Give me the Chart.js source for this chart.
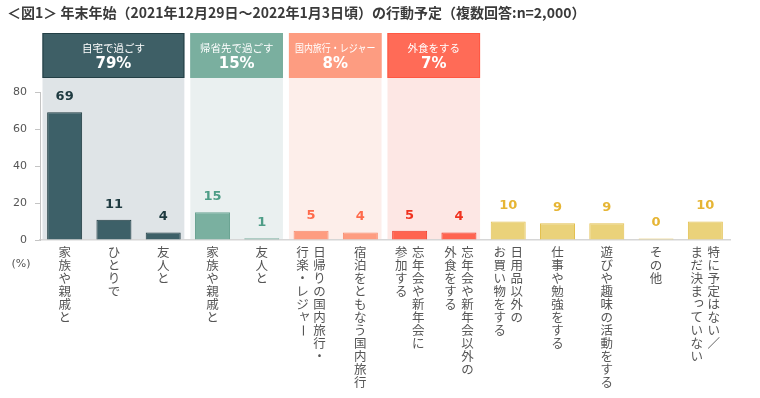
<!DOCTYPE html>
<html>
<head>
<meta charset="utf-8">
<script src="https://cdn.jsdelivr.net/npm/chart.js@4.4.1/dist/chart.umd.min.js"></script>
<style>
  html, body { margin: 0; padding: 0; background: #fff; }
  .chart-box { width: 760px; height: 398px; }
</style>
</head>
<body>
<div class="chart-box"><canvas id="plans"></canvas></div>
<script>
const chartTitle = '＜図1＞ 年末年始（2021年12月29日～2022年1月3日頃）の行動予定（複数回答:n=2,000）';

// each label is a list of vertical columns, right column first
const categories = [
  ['家族や親戚と'],
  ['ひとりで'],
  ['友人と'],
  ['家族や親戚と'],
  ['友人と'],
  ['日帰りの国内旅行・', '行楽・レジャー'],
  ['宿泊をともなう国内旅行'],
  ['忘年会や新年会に', '参加する'],
  ['忘年会や新年会以外の', '外食をする'],
  ['日用品以外の', 'お買い物をする'],
  ['仕事や勉強をする'],
  ['遊びや趣味の活動をする'],
  ['その他'],
  ['特に予定はない／', 'まだ決まっていない'],
];
const values = [69, 11, 4, 15, 1, 5, 4, 5, 4, 10, 9, 9, 0, 10];
const yTicks = [0, 20, 40, 60, 80];
const groupNames = ['自宅で過ごす', '帰省先で過ごす', '国内旅行・レジャー', '外食をする'];
const groupTotals = [79, 15, 8, 7];
const groupRanges = [[0, 2], [3, 4], [5, 6], [7, 8]];

// colours per group (last one = categories outside any group)
const barFill = ['#3d6068', '#7ab0a0', '#fe9c80', '#ff6450', '#ead27a'];
const barLine = ['#1f3b41', '#6ba493', '#f88a6d', '#f03c2a', '#e3c04f'];
const valueColor = ['#1e3a40', '#4e9d87', '#ff6a4b', '#f0321f', '#e6b534'];
const headFill = ['#3e5f66', '#7aaf9f', '#fd9c81', '#ff6b57'];
const headLine = ['#233f45', '#7aaf9f', '#fd9c81', '#ff5843'];
const bandFill = ['#dfe4e7', '#eaf0f0', '#fdeeea', '#fde7e4'];

const groupOf = categories.map((c, i) => {
  const g = groupRanges.findIndex(r => i >= r[0] && i <= r[1]);
  return g === -1 ? 4 : g;
});

const jpFont = '"Noto Sans CJK JP", "Noto Sans", sans-serif';
const numFont = '"DejaVu Sans", Verdana, sans-serif';

function groupEdges(xScale, range) {
  const step = xScale.width / categories.length;
  const left = xScale.getPixelForValue(range[0]) - step / 2 + 2.5;
  const right = xScale.getPixelForValue(range[1]) + step / 2 - 3.5;
  return { left, right };
}

function drawVertical(ctx, text, x, top, pitch) {
  [...text].forEach((ch, i) => {
    ctx.save();
    ctx.translate(x, top + pitch * i + pitch / 2);
    if ('ー～'.includes(ch)) ctx.rotate(Math.PI / 2);
    if ('ゃゅょっャュョッ'.includes(ch)) ctx.translate(2, -2);
    ctx.fillText(ch, 0, 0);
    ctx.restore();
  });
}

const decorPlugin = {
  id: 'decor',
  beforeDraw(chart) {
    const { ctx, chartArea, scales } = chart;
    ctx.save();
    // title
    ctx.fillStyle = '#3a3a3a';
    ctx.font = 'bold 14px ' + jpFont;
    ctx.textBaseline = 'middle';
    ctx.textAlign = 'left';
    ctx.fillText(chartTitle, 7, 13);

    groupRanges.forEach((range, g) => {
      const { left, right } = groupEdges(scales.x, range);
      // band behind the bars
      ctx.fillStyle = bandFill[g];
      ctx.fillRect(left, 78, right - left, chartArea.bottom - 78);
      // header box
      ctx.fillStyle = headFill[g];
      ctx.fillRect(left, 33, right - left, 45);
      ctx.strokeStyle = headLine[g];
      ctx.lineWidth = 1;
      ctx.strokeRect(left + 0.5, 33.5, right - left - 1, 44);
      const cx = (left + right) / 2;
      ctx.fillStyle = '#fff';
      ctx.textAlign = 'center';
      ctx.font = '10.5px ' + jpFont;
      ctx.fillText(groupNames[g], cx, 48, right - left - 12);
      ctx.font = 'bold 15px ' + numFont;
      ctx.fillText(groupTotals[g] + '%', cx, 64);
    });
    ctx.restore();
  },
  afterDraw(chart) {
    const { ctx, scales } = chart;
    const bars = chart.getDatasetMeta(0).data;
    ctx.save();
    ctx.textAlign = 'center';
    ctx.textBaseline = 'middle';
    // value labels
    ctx.font = 'bold 13px ' + numFont;
    bars.forEach((bar, i) => {
      ctx.fillStyle = valueColor[groupOf[i]];
      ctx.fillText(String(values[i]), bar.x, bar.y - 15.5);
    });
    // vertical category labels
    ctx.fillStyle = '#555';
    ctx.font = '12.5px ' + jpFont;
    categories.forEach((cols, i) => {
      const cx = scales.x.getPixelForValue(i);
      const gap = 17;
      const first = cx + (cols.length - 1) * gap / 2;
      cols.forEach((col, k) => {
        drawVertical(ctx, col, first - k * gap, 246, 13);
      });
    });
    // unit
    ctx.fillStyle = '#555';
    ctx.font = '11px ' + numFont;
    ctx.fillText('(%)', 21, 264);
    ctx.restore();
  },
};

const plansCtx = document.getElementById('plans').getContext('2d');
const plansChart = new Chart(plansCtx, {
  type: 'bar',
  data: {
    labels: categories.map(c => c.join('')),
    datasets: [
      {
        data: values,
        backgroundColor: groupOf.map(g => barFill[g]),
        borderColor: groupOf.map(g => barLine[g]),
        borderWidth: 1,
        borderSkipped: 'bottom',
        minBarLength: 1.5,
        categoryPercentage: 1,
        barPercentage: 0.71,
      },
    ],
  },
  options: {
    responsive: true,
    maintainAspectRatio: false,
    animation: false,
    layout: {
      padding: { top: 92, right: 30, bottom: 158, left: 0 },
    },
    plugins: {
      legend: { display: false },
      tooltip: { enabled: false },
      title: { display: false },
    },
    scales: {
      x: {
        ticks: { display: false },
        grid: { display: false },
        border: { display: true, color: '#d6d6d6', width: 1.5 },
        afterFit: scale => {
          scale.height = 0;
        },
      },
      y: {
        min: 0,
        max: 80,
        afterBuildTicks: scale => {
          scale.ticks = yTicks.map(v => ({ value: v }));
        },
        ticks: {
          color: '#555',
          padding: 8,
          font: { family: numFont, size: 11 },
        },
        grid: {
          drawOnChartArea: false,
          drawTicks: true,
          tickLength: 5,
          color: '#c4c4c4',
        },
        border: { display: true, color: '#c4c4c4' },
        afterFit: scale => {
          scale.width = 40;
        },
      },
    },
  },
  plugins: [decorPlugin],
});
</script>
</body>
</html>
